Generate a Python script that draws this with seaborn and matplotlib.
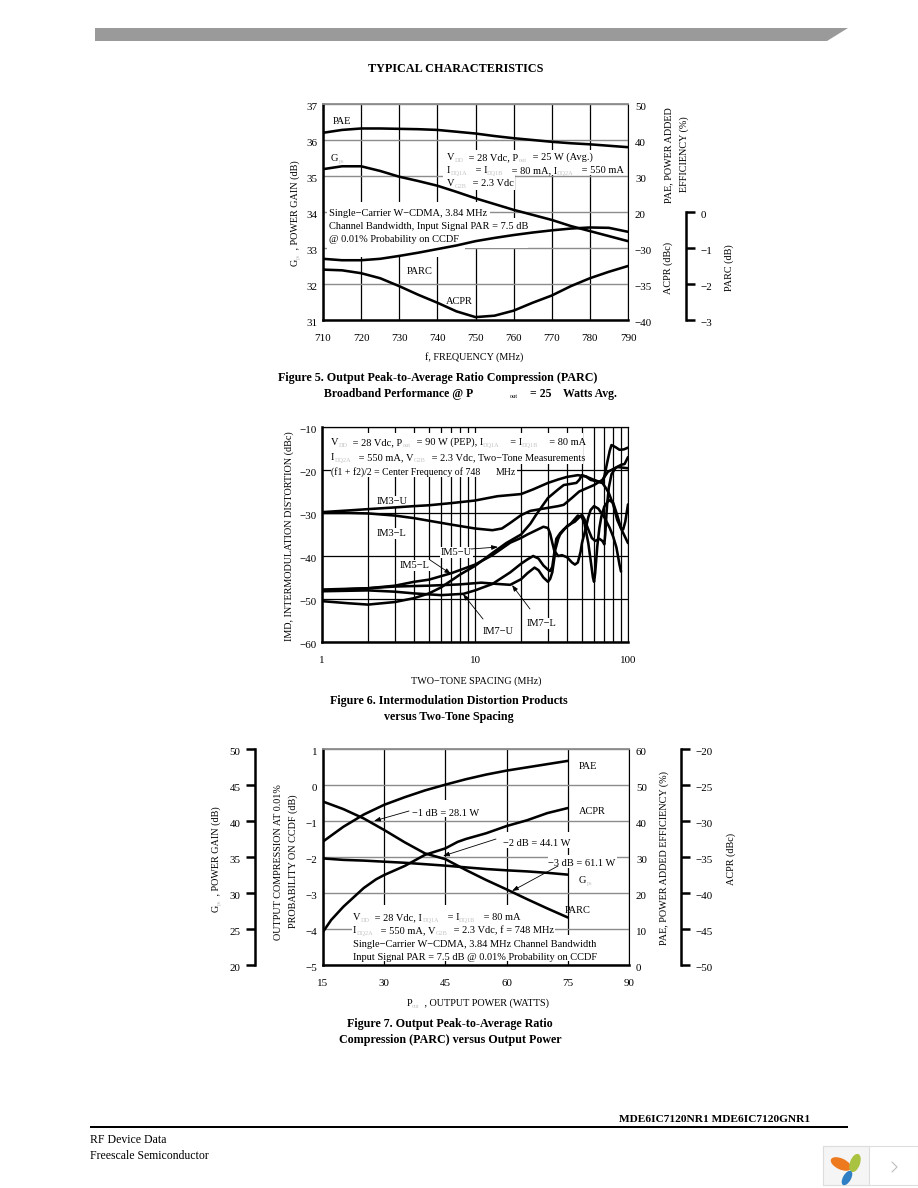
import re

import matplotlib
matplotlib.use("Agg")
import matplotlib.pyplot as plt
import seaborn as sns
from matplotlib.patches import Ellipse, Polygon, Rectangle
from matplotlib.transforms import Affine2D, ScaledTranslation

## FIGURE 5 DATA
FREQ = [710, 715, 720, 725, 730, 735, 740, 745, 750, 755, 760, 765, 770, 775, 780, 785, 790]
F5_PAE = [42.0, 42.8, 43.2, 43.2, 43.1, 43.0, 42.8, 42.3, 41.8, 41.1, 40.5, 40.0, 39.5, 39.1, 38.8, 38.4, 38.0]
F5_GPS = [35.19, 35.27, 35.27, 35.14, 34.98, 34.86, 34.73, 34.56, 34.38, 34.22, 34.06, 33.92, 33.78, 33.61, 33.47, 33.33, 33.19]
F5_PARC = [-1.30, -1.34, -1.34, -1.30, -1.22, -1.13, -1.03, -0.93, -0.81, -0.72, -0.64, -0.57, -0.51, -0.46, -0.43, -0.44, -0.55]
F5_ACPR = [-33.0, -33.1, -33.5, -34.2, -35.3, -36.5, -37.6, -38.8, -39.6, -39.4, -38.7, -37.6, -36.6, -35.3, -34.2, -33.3, -32.5]

## FIGURE 6 DATA
IM3U_X = [1, 1.5, 2, 3, 4, 5, 7, 10, 14, 20, 24, 30, 35, 40, 47, 53, 60, 68, 72, 75, 80, 85, 90, 100]
IM3U_Y = [-29.8, -29.4, -29.1, -28.7, -28.4, -28.2, -27.7, -27.1, -26.1, -25.6, -24.5, -23, -22.2, -21.6, -21.2, -21.5, -22.3, -23, -24.3, -25.4, -28, -31.6, -33.6, -37]
IM3L_X = [1, 1.5, 2, 3, 4, 5, 7, 10, 13, 15, 17, 20, 23, 30, 35, 38, 43, 48, 54, 60, 68, 74, 85, 100]
IM3L_Y = [-30, -30, -30.1, -30.6, -31.2, -31.8, -32.7, -33.6, -34, -33.6, -32.3, -30.5, -29.5, -28.8, -28.4, -28.1, -26.5, -25, -24.2, -23.5, -22.3, -20.4, -19.3, -19.6]
IM5L_X = [1, 2, 3, 4, 5, 7, 10, 13, 17, 20, 22, 28, 30, 31, 32, 33, 35, 37, 40, 43, 45, 47, 49, 50, 53, 55, 57, 60, 64, 70, 76, 80, 84, 88, 90]
IM5L_Y = [-48, -47.5, -46.9, -46, -45.5, -44, -42, -39.8, -36.9, -35.8, -35, -33.2, -33.5, -34.8, -36.9, -38.8, -40, -39.8, -40.3, -41.5, -42, -41.5, -39, -37, -33.5, -31, -29.3, -28.4, -29, -31, -33.5, -35.5, -38, -42, -43.6]
IM5U_X = [1, 1.5, 2, 3, 4, 5, 6, 7, 8, 10, 13, 16, 20, 23, 25, 28, 30, 35, 38, 46, 48, 50, 53, 57, 62, 68, 70, 73, 76, 78, 83, 88, 94, 100]
IM5U_Y = [-50.5, -51, -51.3, -50.7, -49.8, -48.7, -47.3, -45.7, -44.3, -42.3, -39.3, -37, -35, -32.5, -30.5, -28, -26.5, -24.5, -23.5, -23, -22.3, -21.2, -21.5, -22.3, -22.6, -23, -21.5, -18.4, -15.5, -14.2, -14.7, -15.3, -15.2, -14.8]
IM7U_X = [1, 2, 3, 4, 6, 8.4, 10, 13, 17, 20, 22, 24, 26, 28, 30, 31, 32, 32.5, 34, 36, 38, 42, 47, 50, 52, 55, 57, 59, 60, 61, 63, 65, 67, 70, 75, 80, 85, 90, 93, 96, 100]
IM7U_Y = [-48.2, -48, -48.3, -48.7, -49.1, -48.8, -48, -46.5, -43.8, -41.8, -40.8, -40, -40.6, -42.2, -43.2, -43.5, -42.5, -40.8, -36, -34.7, -33.8, -32.6, -30.6, -31, -32.5, -37, -41, -45, -46, -44, -37.7, -33.5, -30.8, -28.5, -27, -27.6, -30.5, -33.5, -33.8, -32, -28]
IM7L_X = [1, 2, 3, 5, 8, 11, 14, 17, 20, 22, 24.5, 26, 28, 30, 31, 32, 33, 33.5, 35, 36, 40, 45, 48, 50, 52, 55, 58, 61, 65, 68, 70, 71, 73, 75, 78, 83, 90, 95, 100]
IM7L_Y = [-47.8, -47.5, -47.1, -46.9, -46.6, -46.2, -46.5, -46.7, -45.4, -44, -42.7, -43.3, -45, -46, -45.3, -43.8, -40.5, -38.5, -36, -35, -33, -32, -31, -30.4, -31.5, -33.8, -35.8, -36.5, -36, -36.5, -37.3, -35, -28, -24, -21, -19.5, -18.8, -18.6, -17]

## FIGURE 7 DATA
POUT_PAE = [15, 20, 25, 30, 35, 40, 45, 50, 55, 60, 65, 70, 75]
F7_PAE = [34.3, 38.4, 41.8, 44.5, 46.6, 48.5, 50.1, 51.6, 52.9, 54, 54.9, 55.8, 56.7]
F7_PARC = [-0.46, -0.67, -0.93, -1.25, -1.59, -1.9, -2.06, -2.36, -2.64, -2.9, -3.17, -3.43, -3.68]
F7_GPS = [34.8, 34.6, 34.5, 34.35, 34.2, 34.0, 33.8, 33.56, 33.33, 33.15, 33.0, 32.8, 32.55]
POUT_ACPR = [15, 17, 20, 25, 28, 30, 35, 40, 45, 48, 50, 55, 60, 65, 70, 75]
F7_ACPR = [-45.4, -43.75, -41.9, -39.3, -38.1, -37.5, -36.25, -34.7, -33.8, -32.9, -32.5, -31.7, -30.7, -29.9, -28.9, -28.2]

W, H = 918, 1188
FS = 7.45
TICK_FS = 7.9
AXIS_FS = 7.25
CAP_FS = 8.65
THICK = 1.8
CURVE = 1.85
GREY = "#8c8c8c"

sns.set_theme(style="white")
plt.rcParams["font.family"] = ["Liberation Serif", "DejaVu Serif"]
plt.rcParams["font.size"] = FS
plt.rcParams["text.color"] = "black"

fig = plt.figure(figsize=(W / 100, H / 100), dpi=100, facecolor="white")
px = Affine2D().scale(1 / W, -1 / H).translate(0, 1) + fig.transFigure
renderer = fig.canvas.get_renderer()


def advance(s, size, weight):
    # bars on both sides so that spaces at the ends get counted
    prop = matplotlib.font_manager.FontProperties(family="Liberation Serif", size=size, weight=weight)
    w1 = renderer.get_text_width_height_descent("|" + s + "|", prop, False)[0]
    w0 = renderer.get_text_width_height_descent("||", prop, False)[0]
    return w1 - w0


def rich(target, x, y, s, size=FS, weight="normal", rotation=0, center=False, zorder=2.6):
    # "_{..}" parts come out as the faint tiny subscripts of the scan
    parts = re.split(r"_\{(.*?)\}", s)
    pieces = []
    for i, part in enumerate(parts):
        if part:
            sub = i % 2 == 1
            sz = size * 0.6 if sub else size
            # subscripts take up more room than their faint glyphs show
            adv = advance(part, size * 0.8 if sub else size, weight)
            pieces.append((part, sub, sz, adv))
    total = sum(p[3] for p in pieces)
    pos = -total / 2 if center else 0
    for part, sub, sz, adv in pieces:
        drop = 2 if sub else 0
        if rotation == 90:
            tx, ty = x + drop, y - pos
        else:
            tx, ty = x + pos, y + drop
        target.text(tx, ty, part, transform=px, fontsize=sz, fontweight=weight,
                    color="#c4c4c4" if sub else "black", rotation=rotation,
                    rotation_mode="anchor", ha="left", va="baseline", zorder=zorder,
                    clip_on=False)
        pos += adv


def mask(ax, x0, y0, x1, y1):
    ax.add_patch(Rectangle((x0, y0), x1 - x0, y1 - y0, transform=px, facecolor="white",
                           edgecolor="none", zorder=2, clip_on=False))


def label(ax, x, y, s):
    ax.text(x, y, s, transform=px, fontsize=FS, ha="left", va="baseline", zorder=2.6,
            bbox=dict(facecolor="white", edgecolor="none", pad=1))


def arrow(ax, start, tip):
    ax.annotate("", xy=tip, xytext=start, xycoords=px, textcoords=px, zorder=2.7,
                arrowprops=dict(arrowstyle="-|>,head_length=0.5,head_width=0.18", color="black",
                                lw=0.6, shrinkA=0, shrinkB=0))


def curve(ax, x, y):
    sns.lineplot(x=x, y=y, ax=ax, color="black", linewidth=CURVE, estimator=None,
                 solid_joinstyle="round", zorder=3)


def make_axes(x0, y0, x1, y1):
    ax = fig.add_axes([x0 / W, 1 - y1 / H, (x1 - x0) / W, (y1 - y0) / H])
    ax.set_axisbelow(True)
    ax.patch.set_alpha(0)
    ax.spines["left"].set_linewidth(THICK)
    ax.spines["bottom"].set_linewidth(THICK)
    ax.spines["right"].set_linewidth(0.8)
    ax.spines["top"].set_linewidth(1.3)
    ax.spines["top"].set_color(GREY)
    for side in ["left", "bottom", "right"]:
        ax.spines[side].set_color("black")
    ax.tick_params(axis="both", length=0, labelsize=TICK_FS, labelcolor="black")
    ax.tick_params(axis="x", pad=10)
    ax.tick_params(axis="y", pad=4)
    ax.grid(True, axis="y", color=GREY, linewidth=1.0)
    ax.grid(True, axis="x", color="black", linewidth=0.9)
    return ax


def twin(ax, side="right", ylim=None, ticks=None, pad=5):
    t = ax.twinx()
    for sp in t.spines.values():
        sp.set_visible(False)
    t.set_ylim(*ylim)
    t.set_yticks(ticks)
    t.yaxis.set_ticks_position(side)
    t.tick_params(axis="y", which="both", length=0, labelsize=TICK_FS, labelcolor="black", pad=pad)
    t.grid(False)
    return t


def outer_spine(t, side, offset, bounds=None):
    sp = t.spines[side]
    sp.set_visible(True)
    sp.set_color("black")
    sp.set_linewidth(THICK)
    sp.set_position(("axes", offset))
    if bounds:
        sp.set_bounds(*bounds)
    t.tick_params(axis="y", length=6.5, width=THICK, direction="out", color="black", pad=4)


def nudge_labels(ax_):
    # scan has the numbers sitting a little under their grid lines
    off = ScaledTranslation(0, -2 / 72 * 1.0, fig.dpi_scale_trans)
    for lab in ax_.get_yticklabels():
        lab.set_transform(lab.get_transform() + off)


## PAGE FURNITURE
fig.add_artist(Polygon([(95, 28), (848, 28), (827, 41), (95, 41)], transform=px, facecolor="#9b9a9b", edgecolor="none"))
fig.add_artist(Rectangle((90, 1126), 758, 2, transform=px, facecolor="black", edgecolor="none"))
rich(fig, 455.5, 72.5, "TYPICAL CHARACTERISTICS", size=8.7, weight="bold", center=True)
rich(fig, 619, 1122, "MDE6IC7120NR1 MDE6IC7120GNR1", size=8.2, weight="bold")
rich(fig, 90, 1143, "RF Device Data", size=8.5)
rich(fig, 90, 1159, "Freescale Semiconductor", size=8.5)

fig.add_artist(Rectangle((823, 1146), 95, 39, transform=px, facecolor="white", edgecolor="#dddddd", linewidth=0.8))
fig.add_artist(Rectangle((823, 1146), 46, 39, transform=px, facecolor="#f5f5f5", edgecolor="#dddddd", linewidth=0.8))
fig.add_artist(Ellipse((841, 1164), 22, 11, angle=25, transform=px, facecolor="#ee7a1f", edgecolor="none"))
fig.add_artist(Ellipse((855, 1163), 19, 10, angle=-70, transform=px, facecolor="#a9c23f", edgecolor="none"))
fig.add_artist(Ellipse((847, 1178), 16, 8, angle=-60, transform=px, facecolor="#2f7fc4", edgecolor="none"))
fig.add_artist(matplotlib.lines.Line2D([892, 897, 892], [1162, 1167, 1172], transform=px, color="#bdbdbd", linewidth=0.8))

## FIGURE 5
ax5 = make_axes(323, 104, 628, 320)
ax5.set_xlim(710, 790)
ax5.set_ylim(31, 37)
ax5.set_xticks(list(range(710, 800, 10)))
ax5.set_yticks(list(range(31, 38)))
curve(ax5, FREQ, F5_GPS)
ax5.set_xlim(710, 790)
ax5.set_ylim(31, 37)

pae5 = twin(ax5, ylim=(-10, 50), ticks=[20, 30, 40, 50])
curve(pae5, FREQ, F5_PAE)
acpr5 = twin(ax5, ylim=(-40, -10), ticks=[-40, -35, -30])
curve(acpr5, FREQ, F5_ACPR)
parc5 = twin(ax5, ylim=(-3, 3), ticks=[-3, -2, -1, 0])
outer_spine(parc5, "right", 1 + (686 - 628) / 305, bounds=(-3, 0))
curve(parc5, FREQ, F5_PARC)
ax5.set_xlim(710, 790)
for a in [ax5, pae5, acpr5, parc5]:
    nudge_labels(a)

mask(ax5, 443, 150, 625, 175)
mask(ax5, 443, 175, 515, 190)
mask(ax5, 327, 202, 490, 248)
mask(ax5, 490, 218, 528, 248)
mask(ax5, 327, 248, 465, 257)
mask(ax5, 404, 264, 434, 277)
rich(ax5, 331, 161, "G_{ps}")
rich(ax5, 333, 124, "PAE")
rich(ax5, 447, 160, "V_{DD} = 28 Vdc, P_{out} = 25 W (Avg.)")
rich(ax5, 447, 173, "I_{DQ1A} = I_{DQ1B} = 80 mA, I_{DQ2A} = 550 mA")
rich(ax5, 447, 186.5, "V_{G2B} = 2.3 Vdc")
rich(ax5, 329, 216, "Single−Carrier W−CDMA, 3.84 MHz")
rich(ax5, 329, 229, "Channel Bandwidth, Input Signal PAR = 7.5 dB")
rich(ax5, 329, 242, "@ 0.01% Probability on CCDF")
rich(ax5, 407, 273.5, "PARC")
rich(ax5, 446, 304, "ACPR")

rich(fig, 474.5, 360, "f, FREQUENCY (MHz)", size=AXIS_FS, center=True)
rich(fig, 298, 213, "G_{ps} , POWER GAIN (dB)", size=AXIS_FS, rotation=90, center=True)
rich(fig, 671, 155, "PAE, POWER ADDED", size=AXIS_FS, rotation=90, center=True)
rich(fig, 687, 154, "EFFICIENCY (%)", size=AXIS_FS, rotation=90, center=True)
rich(fig, 671, 268, "ACPR (dBc)", size=AXIS_FS, rotation=90, center=True)
rich(fig, 732, 268, "PARC (dB)", size=AXIS_FS, rotation=90, center=True)
rich(fig, 438, 381.5, "Figure 5. Output Peak-to-Average Ratio Compression (PARC)", size=CAP_FS, weight="bold", center=True)
rich(fig, 324, 397, "Broadband Performance @ P", size=8.45, weight="bold")
rich(fig, 510, 397.5, "out", size=4.5)
rich(fig, 530, 397, "= 25", size=8.45, weight="bold")
rich(fig, 563, 397, "Watts Avg.", size=8.45, weight="bold")

## FIGURE 6
ax6 = make_axes(322, 427, 628, 642)
ax6.set_xscale("log")
ax6.set_xlim(1, 100)
ax6.set_ylim(-60, -10)
ax6.set_xticks([1, 10, 100], labels=["1", "10", "100"])
ax6.set_xticks([2, 3, 4, 5, 6, 7, 8, 9, 20, 30, 40, 50, 60, 70, 80, 90], minor=True)
ax6.set_xticklabels([], minor=True)
ax6.set_yticks([-60, -50, -40, -30, -20, -10])
ax6.tick_params(axis="x", which="both", length=0)
ax6.grid(True, axis="x", which="both", color="black", linewidth=0.9)
ax6.grid(True, axis="y", color="black", linewidth=0.9)
ax6.spines["top"].set_color("black")
ax6.spines["top"].set_linewidth(0.9)
curve(ax6, IM3U_X, IM3U_Y)
curve(ax6, IM3L_X, IM3L_Y)
curve(ax6, IM5L_X, IM5L_Y)
curve(ax6, IM5U_X, IM5U_Y)
curve(ax6, IM7U_X, IM7U_Y)
curve(ax6, IM7L_X, IM7L_Y)
ax6.set_xlim(1, 100)
ax6.set_ylim(-60, -10)
nudge_labels(ax6)

mask(ax6, 325, 433, 583, 464)
mask(ax6, 331, 464, 517, 477)
rich(ax6, 331, 445, "V_{DD} = 28 Vdc, P_{out} = 90 W (PEP), I_{DQ1A}  = I_{DQ1B}  = 80 mA")
rich(ax6, 331, 460, "I_{DQ2A} = 550 mA, V_{G2B} = 2.3 Vdc, Two−Tone Measurements")
rich(ax6, 331, 475, "(f1 + f2)/2 = Center Frequency of 748", size=7.05)
rich(ax6, 496, 475, "MHz", size=7.05)
label(ax6, 377, 504, "IM3−U")
label(ax6, 377, 536, "IM3−L")
label(ax6, 400, 568, "IM5−L")
label(ax6, 441, 555, "IM5−U")
label(ax6, 483, 634, "IM7−U")
label(ax6, 527, 626, "IM7−L")
arrow(ax6, (471, 549), (498, 547))
arrow(ax6, (430, 560), (451, 574))
arrow(ax6, (483, 619), (463, 594))
arrow(ax6, (530, 609), (512, 585))

rich(fig, 476, 684, "TWO−TONE SPACING (MHz)", size=AXIS_FS, center=True)
rich(fig, 292, 536, "IMD, INTERMODULATION DISTORTION (dBc)", size=AXIS_FS, rotation=90, center=True)
rich(fig, 449, 704, "Figure 6. Intermodulation Distortion Products", size=CAP_FS, weight="bold", center=True)
rich(fig, 449, 720, "versus Two-Tone Spacing", size=CAP_FS, weight="bold", center=True)

## FIGURE 7
ax7 = make_axes(323, 749, 629, 965)
ax7.set_xlim(15, 90)
ax7.set_ylim(-5, 1)
ax7.set_xticks([15, 30, 45, 60, 75, 90])
ax7.set_yticks([-5, -4, -3, -2, -1, 0, 1])
curve(ax7, POUT_PAE, F7_PARC)
ax7.set_xlim(15, 90)
ax7.set_ylim(-5, 1)

gps7 = twin(ax7, side="left", ylim=(20, 50), ticks=[20, 25, 30, 35, 40, 45, 50])
outer_spine(gps7, "left", -(323 - 255) / 306)
curve(gps7, POUT_PAE, F7_GPS)
pae7 = twin(ax7, ylim=(0, 60), ticks=[0, 10, 20, 30, 40, 50, 60])
curve(pae7, POUT_PAE, F7_PAE)
acpr7 = twin(ax7, ylim=(-50, -20), ticks=[-50, -45, -40, -35, -30, -25, -20])
outer_spine(acpr7, "right", 1 + (681 - 629) / 306)
curve(acpr7, POUT_ACPR, F7_ACPR)
ax7.set_xlim(15, 90)
for a in [ax7, gps7, pae7, acpr7]:
    nudge_labels(a)

mask(ax7, 352, 905, 555, 935)
mask(ax7, 352, 935, 598, 961)
mask(ax7, 410, 800, 481, 817)
mask(ax7, 501, 832, 572, 848)
mask(ax7, 548, 855, 617, 868)
rich(ax7, 353, 920, "V_{DD} = 28 Vdc, I_{DQ1A} = I_{DQ1B} = 80 mA")
rich(ax7, 353, 933, "I_{DQ2A} = 550 mA, V_{G2B} = 2.3 Vdc, f = 748 MHz")
rich(ax7, 353, 947, "Single−Carrier W−CDMA, 3.84 MHz Channel Bandwidth")
rich(ax7, 353, 960, "Input Signal PAR = 7.5 dB @ 0.01% Probability on CCDF")
rich(ax7, 412, 816, "−1 dB = 28.1 W")
rich(ax7, 503, 846, "−2 dB = 44.1 W")
rich(ax7, 548, 866, "−3 dB = 61.1 W")
rich(ax7, 579, 769, "PAE")
rich(ax7, 579, 814, "ACPR")
rich(ax7, 579, 883, "G_{ps}")
rich(ax7, 565, 913, "PARC")
arrow(ax7, (409, 811), (374, 821))
arrow(ax7, (496, 839), (443, 856))
arrow(ax7, (558, 866), (512, 891))

rich(fig, 478, 1006, "P_{out} , OUTPUT POWER (WATTS)", size=AXIS_FS, center=True)
rich(fig, 219, 859, "G_{ps} , POWER GAIN (dB)", size=AXIS_FS, rotation=90, center=True)
rich(fig, 281, 862, "OUTPUT COMPRESSION AT 0.01%", size=AXIS_FS, rotation=90, center=True)
rich(fig, 296, 861, "PROBABILITY ON CCDF (dB)", size=AXIS_FS, rotation=90, center=True)
rich(fig, 667, 858, "PAE, POWER ADDED EFFICIENCY (%)", size=AXIS_FS, rotation=90, center=True)
rich(fig, 734, 859, "ACPR (dBc)", size=AXIS_FS, rotation=90, center=True)
rich(fig, 450, 1027, "Figure 7. Output Peak-to-Average Ratio", size=CAP_FS, weight="bold", center=True)
rich(fig, 450, 1043, "Compression (PARC) versus Output Power", size=CAP_FS, weight="bold", center=True)

fig.savefig("out.png", dpi=100, facecolor="white")
